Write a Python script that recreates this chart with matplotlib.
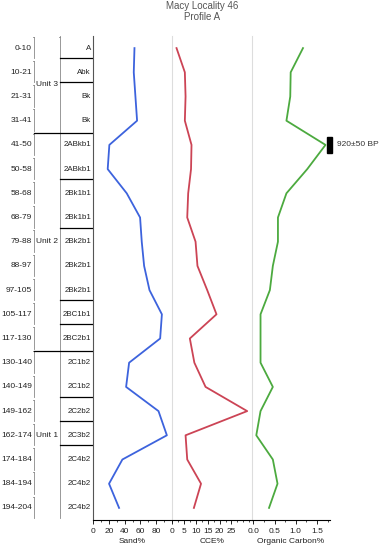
#!/usr/bin/env python3
# Macy Locality 46, Profile A: sand, CCE and organic carbon by depth

import matplotlib
matplotlib.use("Agg")
import matplotlib.pyplot as plt
from matplotlib.patches import Rectangle
from matplotlib.ticker import MultipleLocator

plt.rcParams['font.family'] = ['Liberation Sans', 'DejaVu Sans']

# Data
depths = ['0-10', '10-21', '21-31', '31-41', '41-50', '50-58', '58-68', '68-79',
          '79-88', '88-97', '97-105', '105-117', '117-130', '130-140', '140-149',
          '149-162', '162-174', '174-184', '184-194', '194-204']
horizons = ['A', 'Abk', 'Bk', 'Bk', '2ABkb1', '2ABkb1', '2Bk1b1', '2Bk1b1',
            '2Bk2b1', '2Bk2b1', '2Bk2b1', '2BC1b1', '2BC2b1', '2C1b2', '2C1b2',
            '2C2b2', '2C3b2', '2C4b2', '2C4b2', '2C4b2']
units = ['Unit 3', 'Unit 2', 'Unit 1']
unit_rows = [(0, 3), (4, 12), (13, 19)]

sand = [52.5, 51.6, 53.7, 55.8, 20.7, 18.6, 42.7, 59.6, 61.7, 64.7,
        71.5, 87.2, 85.0, 45.7, 41.9, 82.9, 93.5, 37.2, 20.3, 33.0]
cce = [1.9, 5.4, 5.7, 5.4, 8.2, 8.0, 6.8, 6.4, 9.9, 10.7,
       14.8, 18.7, 7.5, 9.4, 14.1, 31.6, 5.7, 6.4, 12.2, 9.2]
oc = [1.17, 0.88, 0.87, 0.78, 1.70, 1.27, 0.78, 0.58, 0.58, 0.46,
      0.39, 0.17, 0.17, 0.17, 0.46, 0.17, 0.07, 0.46, 0.57, 0.37]
date_row = 4
date_label = '920±50 BP'

W, H = 386, 550
FS = 6.0
FS_HOR = 5.7
rows = list(range(len(depths)))


def px(x0, y0, x1, y1):
    return [x0 / W, 1 - y1 / H, (x1 - x0) / W, (y1 - y0) / H]


fig = plt.figure(figsize=(W / 100, H / 100), dpi=100)
fig.text(0.523, 1 - 11.5 / H, 'Macy Locality 46\nProfile A', ha='center', va='center',
         fontsize=7, color='#555555', linespacing=1.1)

# left-hand table of depths, units and horizons
tab = fig.add_axes(px(0, 36, 93, 520))
tab.set_xlim(0, 93)
tab.set_ylim(len(depths) - 0.5, -0.5)
tab.axis('off')
for i in rows:
    tab.text(32, i, depths[i], ha='right', va='center', fontsize=FS, color='#222222')
    tab.text(91, i, horizons[i], ha='right', va='center', fontsize=FS_HOR, color='#222222')
    tab.plot([34, 34], [i - 0.47, i + 0.42], color='#888888', lw=0.6)
    tab.plot([33, 34], [i - 0.47, i - 0.47], color='#888888', lw=0.6)
tab.plot([60, 60], [-0.5, len(depths) - 0.6], color='#888888', lw=0.6)
tab.plot([59, 60], [-0.47, -0.47], color='#888888', lw=0.6)
for name, (r0, r1) in zip(units, unit_rows):
    tab.text(47, (r0 + r1) / 2, name, ha='center', va='center', fontsize=FS, color='#222222')
for (r0, r1) in unit_rows[:-1]:
    tab.plot([34, 93], [r1 + 0.5, r1 + 0.5], color='black', lw=0.9)
for i in rows[:-1]:
    if horizons[i] != horizons[i + 1] and not any(i == r1 for _, r1 in unit_rows):
        tab.plot([60, 93], [i + 0.42, i + 0.42], color='black', lw=0.9)

# the three profile panels
panels = [
    (sand, 'Sand%', '#3d63dd', px(93, 36, 172, 520), (0, 100), 20, 10),
    (cce, 'CCE%', '#cc4455', px(172, 36, 251.7, 520), (0, 33.5), 5, 2.5),
    (oc, 'Organic Carbon%', '#4caa3f', px(251.7, 36, 330, 520), (-0.038, 1.806), 0.5, 0.25),
]
axes = []
for k, (vals, label, color, pos, xlim, major, minor) in enumerate(panels):
    ax = fig.add_axes(pos)
    ax.plot(vals, rows, color=color, lw=1.3)
    ax.set_xlim(*xlim)
    ax.set_ylim(len(depths) - 0.5, -0.5)
    ax.set_yticks([])
    ax.xaxis.set_major_locator(MultipleLocator(major))
    ax.xaxis.set_minor_locator(MultipleLocator(minor))
    ax.tick_params(axis='x', which='major', length=3, width=0.6, pad=2.5,
                   labelsize=FS, labelcolor='#222222')
    ax.tick_params(axis='x', which='minor', length=1.5, width=0.5)
    ax.set_xlabel(label, fontsize=FS, color='#222222', labelpad=2.5)
    for s in ['top', 'right']:
        ax.spines[s].set_visible(False)
    ax.spines['bottom'].set_linewidth(0.8)
    if k == 0:
        ax.spines['left'].set_color('#555555')
        ax.spines['left'].set_linewidth(0.8)
    else:
        ax.spines['left'].set_color('#dddddd')
        ax.spines['left'].set_linewidth(0.8)
    ax.patch.set_alpha(0)
    axes.append(ax)

# keep the tick labels inside each panel range
axes[0].set_xticks([0, 20, 40, 60, 80])
axes[1].set_xticks([0, 5, 10, 15, 20, 25])
axes[2].set_xticks([0.0, 0.5, 1.0, 1.5])
axes[2].set_xticklabels(['0.0', '0.5', '1.0', '1.5'])

# radiocarbon date marker
oc_ax = axes[2]
oc_ax.add_patch(Rectangle((oc[date_row] + 0.04, date_row - 0.32), 0.12, 0.64,
                          color='black', clip_on=False))
oc_ax.text(oc[date_row] + 0.27, date_row, date_label, ha='left', va='center',
           fontsize=FS, color='#333333', clip_on=False)

fig.savefig('out.png', dpi=100)
